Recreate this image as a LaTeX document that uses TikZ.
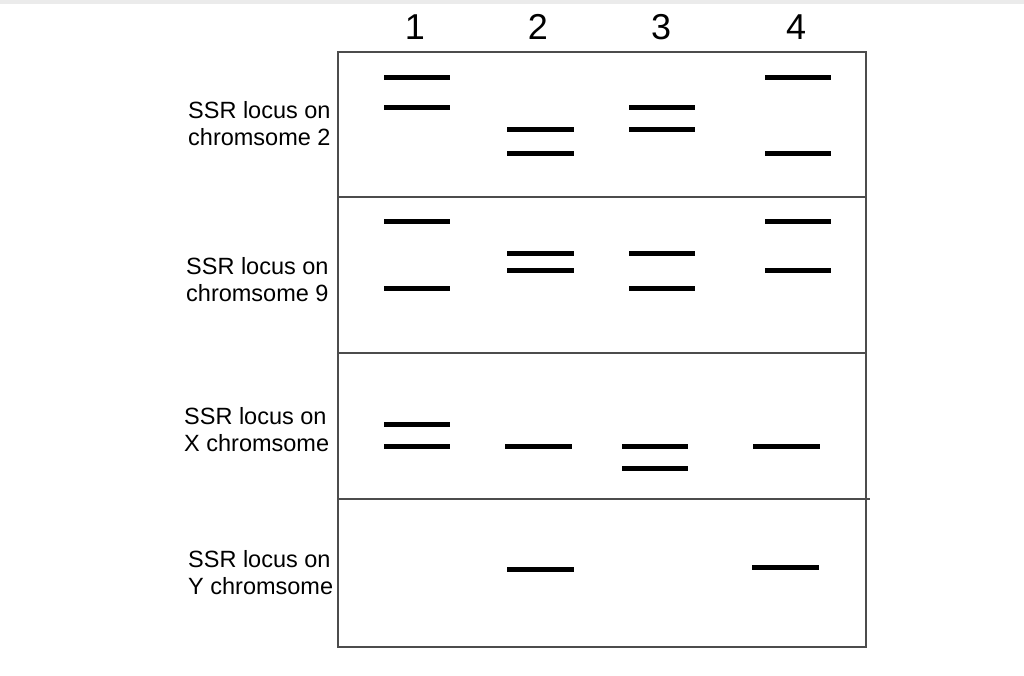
\documentclass[tikz,border=0pt]{standalone}
\usepackage{fontspec}
\setmainfont{Liberation Sans}
\begin{document}
\begin{tikzpicture}[x=1pt,y=-1pt,
  frame/.style={draw=black!70,line width=1.4pt},
  band/.style={line width=5pt,black},
  lanenum/.style={font=\fontsize{36}{40}\selectfont,anchor=center},
  rowlabel/.style={font=\fontsize{23.5}{27}\selectfont,align=left,anchor=west,inner sep=0pt}]
\useasboundingbox (0,0) rectangle (1024,675);
\fill[black!8] (0,0) rectangle (1024,4);
% frame
\draw[frame] (338,52) rectangle (866,647);
\draw[frame] (338,197) -- (866,197);
\draw[frame] (338,353) -- (866,353);
\draw[frame] (338,499) -- (870,499);
% lane numbers
\node[lanenum] (n1) at (415,27) {1};
\node[lanenum] (n2) at (538,27) {2};
\node[lanenum] (n3) at (661,27) {3};
\node[lanenum] (n4) at (796,27) {4};
% row labels
\node[rowlabel] (r1) at (188,123.5) {SSR locus on\\chromsome 2};
\node[rowlabel] (r2) at (186,279.5) {SSR locus on\\chromsome 9};
\node[rowlabel] (r3) at (184,429.5) {SSR locus on\\X chromsome};
\node[rowlabel] (r4) at (188,573) {SSR locus on\\Y chromsome};
% row 1
\draw[band] (384,77) -- (450,77);
\draw[band] (384,107) -- (450,107);
\draw[band] (507,129) -- (574,129);
\draw[band] (507,153) -- (574,153);
\draw[band] (629,107) -- (695,107);
\draw[band] (629,129) -- (695,129);
\draw[band] (765,77) -- (831,77);
\draw[band] (765,153) -- (831,153);
% row 2
\draw[band] (384,221) -- (450,221);
\draw[band] (384,288) -- (450,288);
\draw[band] (507,253) -- (574,253);
\draw[band] (507,270) -- (574,270);
\draw[band] (629,253) -- (695,253);
\draw[band] (629,288) -- (695,288);
\draw[band] (765,221) -- (831,221);
\draw[band] (765,270) -- (831,270);
% row 3
\draw[band] (384,424) -- (450,424);
\draw[band] (384,446) -- (450,446);
\draw[band] (505,446) -- (572,446);
\draw[band] (622,446) -- (688,446);
\draw[band] (622,468) -- (688,468);
\draw[band] (753,446) -- (820,446);
% row 4
\draw[band] (507,569) -- (574,569);
\draw[band] (752,567) -- (819,567);
\end{tikzpicture}
\end{document}
